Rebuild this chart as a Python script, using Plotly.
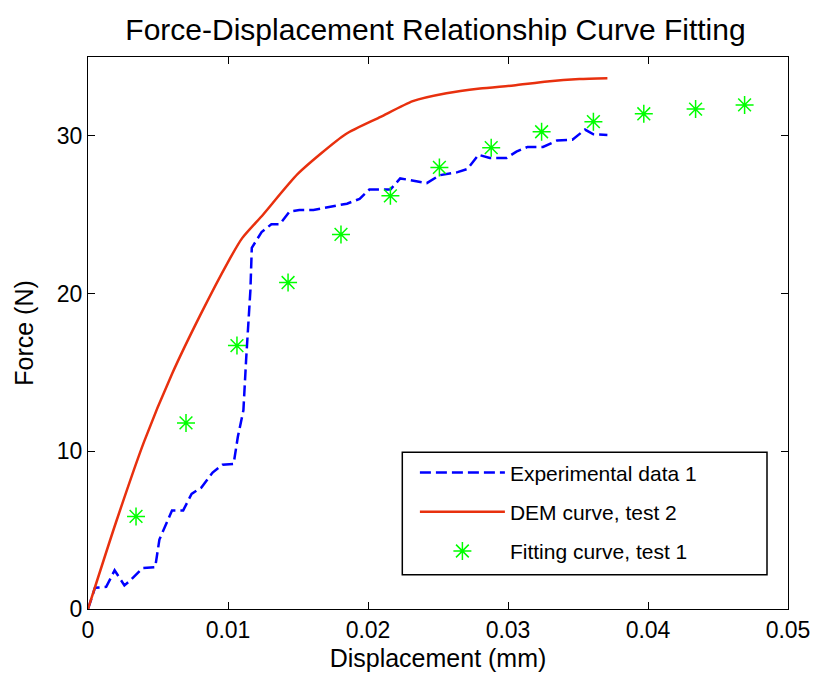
import plotly.graph_objects as go

# Experimental data 1 (blue dashed)
exp_x = [0.0, 0.0005, 0.0013, 0.0019, 0.0026, 0.0030, 0.0039, 0.0048, 0.0051, 0.0060, 0.0068,
         0.0074, 0.0081, 0.0089, 0.0096, 0.0104, 0.0107, 0.0111, 0.0113, 0.0116, 0.0117,
         0.0124, 0.0131, 0.0137, 0.0144, 0.0151, 0.0161, 0.0173, 0.0185, 0.0194, 0.0201,
         0.0216, 0.0223, 0.0230, 0.0242, 0.0251, 0.0264, 0.0271, 0.0279, 0.0287, 0.0299,
         0.0306, 0.0314, 0.0325, 0.0335, 0.0346, 0.0355, 0.0361, 0.0371]
exp_y = [0.0, 1.35, 1.4, 2.45, 1.5, 1.8, 2.6, 2.65, 4.4, 6.25, 6.25,
         7.3, 7.7, 8.65, 9.15, 9.2, 10.9, 12.6, 15.9, 20.2, 22.9,
         23.9, 24.4, 24.4, 25.2, 25.3, 25.3, 25.5, 25.7, 26.0, 26.6,
         26.6, 27.3, 27.2, 27.0, 27.5, 27.7, 27.9, 28.8, 28.6, 28.6,
         29.0, 29.3, 29.3, 29.7, 29.75, 30.4, 30.1, 30.05]

# DEM curve, test 2 (red solid)
dem_x = [0.0, 0.002, 0.004, 0.006, 0.008, 0.010, 0.011, 0.0125, 0.015, 0.0184, 0.0209,
         0.0232, 0.0256, 0.028, 0.0304, 0.0328, 0.0351, 0.0371]
dem_y = [0.0, 5.5, 10.6, 14.9, 18.6, 22.0, 23.5, 25.0, 27.6, 30.1, 31.2,
         32.2, 32.7, 33.0, 33.2, 33.45, 33.6, 33.65]

# Fitting curve, test 1 (green stars)
fit_x = [0.00343, 0.0070, 0.01064, 0.01429, 0.01807, 0.0216, 0.0251, 0.0288, 0.0324,
         0.0361, 0.0397, 0.0434, 0.0469]
fit_y = [5.87, 11.8, 16.7, 20.7, 23.75, 26.2, 28.0, 29.25, 30.26, 30.9, 31.4, 31.7, 31.96]

x_ticks = [0, 0.01, 0.02, 0.03, 0.04, 0.05]
x_tick_labels = ["0", "0.01", "0.02", "0.03", "0.04", "0.05"]
y_ticks = [0, 10, 20, 30]

FONT = "Liberation Sans, Arial, sans-serif"

fig = go.Figure()
fig.add_trace(go.Scatter(x=exp_x, y=exp_y, mode="lines", name="Experimental data 1",
                         legendgroup="a",
                         line=dict(color="#0000FF", width=2.5, dash="11px,5px")))
fig.add_trace(go.Scatter(x=dem_x, y=dem_y, mode="lines", name="DEM curve, test 2",
                         legendgroup="b",
                         line=dict(color="#E8300E", width=2.5, shape="spline", smoothing=0.6)))
fig.add_trace(go.Scatter(x=fit_x, y=fit_y, mode="markers", name="Fitting curve, test 1",
                         legendgroup="c",
                         marker=dict(symbol="asterisk-open", size=15, color="#00FF00",
                                     line=dict(color="#00FF00", width=1.5))))

# legend frame (paper coordinates)
fig.add_shape(type="rect", xref="paper", yref="paper",
              x0=0.449, x1=0.970, y0=0.062, y1=0.284,
              fillcolor="white", line=dict(color="black", width=1.5), layer="above")

fig.update_layout(
    width=814, height=675,
    margin=dict(l=88, r=26, t=57, b=66),
    paper_bgcolor="white", plot_bgcolor="white",
    font=dict(family=FONT, size=24, color="black"),
    title=dict(text="Force-Displacement Relationship Curve Fitting",
               x=0.535, xanchor="center", y=0.957, yanchor="middle",
               font=dict(size=30, family=FONT, color="black")),
    xaxis=dict(range=[0, 0.05], tickvals=x_ticks, ticktext=x_tick_labels,
               ticks="inside", ticklen=7, tickcolor="black", mirror="ticks",
               showline=True, linecolor="black", linewidth=1, showgrid=False, zeroline=False,
               automargin=False,
               title=dict(text="Displacement (mm)", font=dict(size=25), standoff=7),
               tickfont=dict(size=23)),
    yaxis=dict(range=[0, 35], tickvals=y_ticks,
               ticks="inside", ticklen=7, tickcolor="black", mirror="ticks",
               showline=True, linecolor="black", linewidth=1, showgrid=False, zeroline=False,
               automargin=False,
               title=dict(text="Force (N)", font=dict(size=25), standoff=16),
               tickfont=dict(size=23)),
    legend=dict(x=0.467, y=0.284, xanchor="left", yanchor="top",
                bgcolor="rgba(0,0,0,0)", borderwidth=0,
                font=dict(size=21, family=FONT), itemwidth=85,
                tracegroupgap=9),
    showlegend=True,
)

fig.write_html("out.html")
